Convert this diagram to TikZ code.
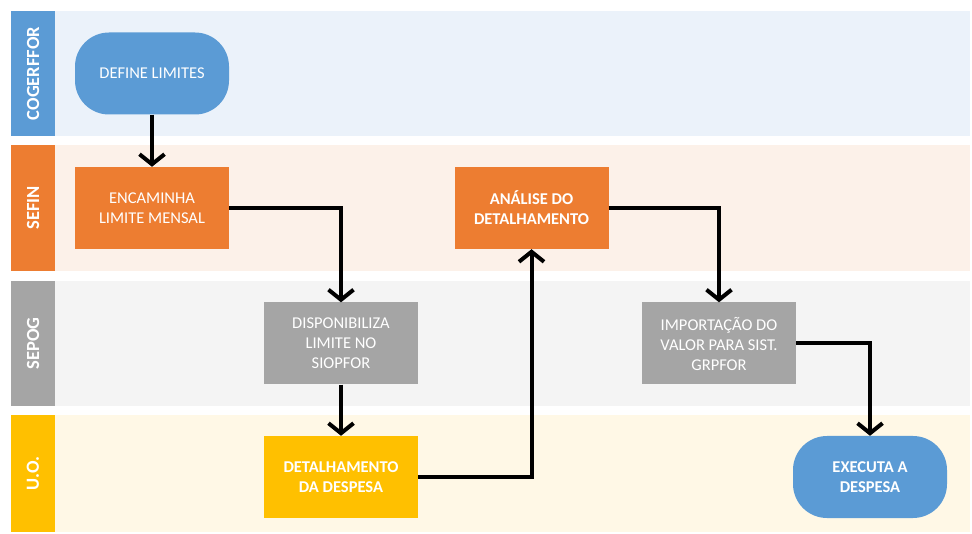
\documentclass[tikz,border=0pt]{standalone}
\usepackage{fontspec}
\setmainfont{Carlito}
\usetikzlibrary{arrows.meta}
\definecolor{cblue}{HTML}{5B9BD5}
\definecolor{corange}{HTML}{ED7D31}
\definecolor{cgray}{HTML}{A5A5A5}
\definecolor{cyellow}{HTML}{FFC000}
\definecolor{bgblue}{HTML}{EBF2FA}
\definecolor{bgorange}{HTML}{FCF1E9}
\definecolor{bggray}{HTML}{F4F4F4}
\definecolor{bgyellow}{HTML}{FFF8E6}
\tikzset{
  lanelabel/.style={text=white, font=\fontsize{18.5}{21}\selectfont\bfseries, rotate=90},
  proc/.style={minimum width=154pt, minimum height=82pt, inner sep=0pt, align=center, text=white, font=\fontsize{16.5}{20}\selectfont},
  term/.style={proc, rounded corners=34pt},
  arr/.style={line width=4pt, -{Straight Barb[length=10pt,width=25pt]}},
}
\begin{document}
\begin{tikzpicture}[x=1pt,y=-1pt]
\useasboundingbox (0,0) rectangle (972,534);
% lanes
\fill[bgblue] (55,11) rectangle (970,136);
\fill[cblue] (11,11) rectangle (55,136);
\node[lanelabel] (l1) at (33,73.5) {COGERFFOR};
\fill[bgorange] (55,145) rectangle (970,271);
\fill[corange] (11,145) rectangle (55,271);
\node[lanelabel] (l2) at (33,208) {SEFIN};
\fill[bggray] (55,281) rectangle (970,406);
\fill[cgray] (11,281) rectangle (55,406);
\node[lanelabel] (l3) at (33,343.5) {SEPOG};
\fill[bgyellow] (55,415) rectangle (970,532);
\fill[cyellow] (11,415) rectangle (55,532);
\node[lanelabel] (l4) at (33,473.5) {U.O.};
% nodes
\node[term, fill=cblue] (def) at (152,73.5) {DEFINE LIMITES};
\node[proc, fill=corange] (enc) at (152,208) {ENCAMINHA\\LIMITE MENSAL};
\node[proc, fill=cgray] (disp) at (341,343.5) {DISPONIBILIZA\\LIMITE NO\\SIOPFOR};
\node[proc, fill=cyellow, font=\fontsize{16.5}{20}\selectfont\bfseries] (det) at (341,477) {DETALHAMENTO\\DA DESPESA};
\node[proc, fill=corange, font=\fontsize{16.5}{20}\selectfont\bfseries] (ana) at (531.5,208) {ANÁLISE DO\\DETALHAMENTO};
\node[proc, fill=cgray] (imp) at (719,343.5) {IMPORTAÇÃO DO\\VALOR PARA SIST.\\GRPFOR};
\node[term, fill=cblue, font=\fontsize{16.5}{20}\selectfont\bfseries] (exe) at (870,477) {EXECUTA A\\DESPESA};
% connectors
\draw[arr] (def) -- (enc);
\draw[arr] (enc.east) -| (disp.north);
\draw[arr] (disp) -- (det);
\draw[arr] (det.east) -| (ana.south);
\draw[arr] (ana.east) -| (imp.north);
\draw[arr] (imp.east) -| (exe.north);
\end{tikzpicture}
\end{document}
